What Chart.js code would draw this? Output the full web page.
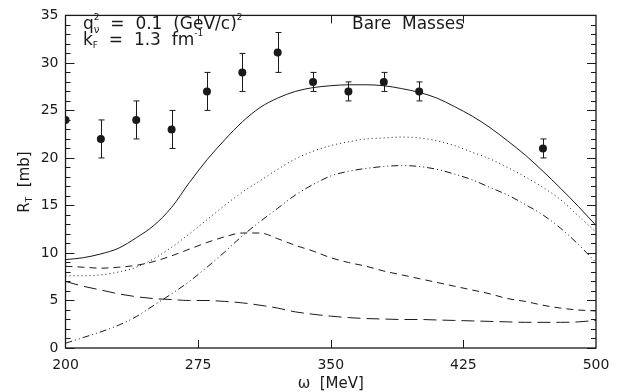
<!DOCTYPE html>
<html>
<head>
<meta charset="utf-8">
<script src="https://cdn.jsdelivr.net/npm/chart.js@4.4.1/dist/chart.umd.min.js"></script>
<style>
  html, body { margin: 0; padding: 0; background: #fff; }
  #chart { display: block; }
</style>
</head>
<body>
<canvas id="chart" width="621" height="392"></canvas>
<script>
// omega grid for the theory curves (MeV)
const omegaCurve = [200, 210, 220, 230, 240, 250, 260, 270, 280, 290, 300, 310, 320, 330, 340, 350,
    360, 370, 380, 390, 400, 410, 420, 430, 440, 450, 460, 470, 480, 490, 500];

// total (solid)
const totalRT = [9.3, 9.5, 9.9, 10.5, 11.6, 12.9, 14.8, 17.4, 19.8, 21.9, 23.8, 25.3, 26.3, 27.0, 27.4, 27.6,
    27.7, 27.7, 27.6, 27.3, 26.9, 26.3, 25.4, 24.4, 23.2, 21.8, 20.3, 18.6, 16.8, 14.9, 12.9];
// dotted
const dottedRT = [7.6, 7.6, 7.7, 8.0, 8.5, 9.4, 10.6, 12.0, 13.5, 15.0, 16.4, 17.6, 18.8, 19.9, 20.7, 21.3,
    21.7, 22.0, 22.1, 22.2, 22.1, 21.8, 21.3, 20.6, 19.9, 19.0, 18.0, 16.9, 15.6, 13.9, 12.2];
// dash-dot-dot
const dashDotRT = [0.5, 1.1, 1.7, 2.4, 3.3, 4.5, 5.7, 7.0, 8.5, 10.1, 11.8, 13.3, 14.7, 16.1, 17.2, 18.1,
    18.6, 18.9, 19.1, 19.2, 19.1, 18.8, 18.3, 17.7, 16.9, 16.1, 15.1, 14.0, 12.6, 10.9, 9.0];
// short dashes
const shortDashRT = [8.6, 8.5, 8.4, 8.5, 8.7, 9.1, 9.7, 10.4, 11.1, 11.7, 12.1, 12.1, 11.5, 10.8, 10.2, 9.5,
    9.0, 8.6, 8.1, 7.7, 7.3, 6.9, 6.5, 6.1, 5.7, 5.2, 4.9, 4.5, 4.2, 4.0, 3.9];
// long dashes
const longDashRT = [7.0, 6.5, 6.1, 5.7, 5.4, 5.2, 5.1, 5.0, 5.0, 4.9, 4.75, 4.5, 4.2, 3.8, 3.55, 3.35,
    3.2, 3.1, 3.05, 3.0, 3.0, 2.95, 2.9, 2.85, 2.8, 2.75, 2.7, 2.7, 2.7, 2.75, 2.9];

// measured points
const dataOmega = [200, 220, 240, 260, 280, 300, 320, 340, 360, 380, 400, 470];
const dataRT = [24, 22, 24, 23, 27, 29, 31.1, 28, 27, 28, 27, 21];
const dataErr = [0, 2, 2, 2, 2, 2, 2.1, 1, 1, 1, 1, 1];

const xTicks = [200, 275, 350, 425, 500];
const yTicks = [0, 5, 10, 15, 20, 25, 30, 35];

const INK = "#1a1a1a";
const FONT = "'DejaVu Sans', sans-serif";

const pairs = (xs, ys) => xs.map((v, i) => ({ x: v, y: ys[i] }));

const curve = (values, dash) => ({
    data: pairs(omegaCurve, values),
    borderColor: INK,
    borderWidth: 1,
    borderDash: dash,
    pointRadius: 0,
    cubicInterpolationMode: "monotone",
    fill: false,
});

// text with sub/superscripts: parts = [text, size, dy, advance?]
function drawRich(ctx, parts, x, y) {
    let cx = x;
    parts.forEach(([t, size, dy, adv = true]) => {
        ctx.font = `${size}px ${FONT}`;
        ctx.fillText(t, cx, y + dy);
        if (adv) cx += ctx.measureText(t).width;
    });
}

const decor = {
    id: "decor",
    afterDatasetsDraw(chart) {
        const { ctx, chartArea: a, scales: { x, y } } = chart;
        ctx.save();
        ctx.strokeStyle = INK;
        ctx.fillStyle = INK;

        // error bars
        ctx.lineWidth = 1;
        dataOmega.forEach((w, i) => {
            const e = dataErr[i];
            if (!e) return;
            const px = Math.round(x.getPixelForValue(w)) + 0.5;
            const lo = y.getPixelForValue(dataRT[i] - e);
            const hi = y.getPixelForValue(dataRT[i] + e);
            ctx.beginPath();
            ctx.moveTo(px, lo); ctx.lineTo(px, hi);
            ctx.moveTo(px - 3, lo); ctx.lineTo(px + 3, lo);
            ctx.moveTo(px - 3, hi); ctx.lineTo(px + 3, hi);
            ctx.stroke();
        });

        // frame
        ctx.lineWidth = 1.3;
        ctx.strokeRect(a.left, a.top, a.right - a.left, a.bottom - a.top);

        // inward ticks
        ctx.lineWidth = 1;
        ctx.beginPath();
        for (let v = 0; v <= 35; v++) {
            const py = Math.round(y.getPixelForValue(v)) + 0.5;
            const len = v % 5 === 0 ? 9 : 5;
            ctx.moveTo(a.left, py); ctx.lineTo(a.left + len, py);
            ctx.moveTo(a.right, py); ctx.lineTo(a.right - len, py);
        }
        xTicks.slice(1, -1).forEach((v) => {
            const px = Math.round(x.getPixelForValue(v)) + 0.5;
            ctx.moveTo(px, a.bottom); ctx.lineTo(px, a.bottom - 8);
            ctx.moveTo(px, a.top); ctx.lineTo(px, a.top + 8);
        });
        ctx.stroke();

        // annotations
        ctx.textBaseline = "alphabetic";
        ctx.textAlign = "left";
        drawRich(ctx, [["q", 17, 0], ["\u03bd", 10, 4, false], ["2", 9, -9], ["  =  0.1  (GeV/c)", 17, 0], ["2", 9, -9]], 83, 29);
        drawRich(ctx, [["k", 17, 0], ["F", 9, 3], ["  =  1.3  fm", 17, 0], ["-1", 9, -9]], 83, 45);
        ctx.font = `17px ${FONT}`;
        ctx.fillText("Bare  Masses", 352, 29);

        // axis titles
        ctx.save();
        ctx.translate(24, 182);
        ctx.rotate(-Math.PI / 2);
        ctx.font = `15px ${FONT}`;
        const w1 = ctx.measureText("R").width;
        ctx.font = `9px ${FONT}`;
        const w2 = ctx.measureText("T").width;
        ctx.font = `15px ${FONT}`;
        const w3 = ctx.measureText("  [mb]").width;
        drawRich(ctx, [["R", 15, 0], ["T", 9, 3], ["  [mb]", 15, 0]], -(w1 + w2 + w3) / 2, 5);
        ctx.restore();

        ctx.textAlign = "center";
        ctx.font = `15px ${FONT}`;
        ctx.fillText("\u03c9  [MeV]", (a.left + a.right) / 2, 388);
        ctx.restore();
    },
};

new Chart(document.getElementById("chart"), {
    type: "line",
    data: {
        datasets: [
            curve(totalRT, []),
            curve(dottedRT, [1, 3]),
            curve(dashDotRT, [7, 3, 1, 3, 1, 3]),
            curve(shortDashRT, [7, 5]),
            curve(longDashRT, [13, 6]),
            {
                data: pairs(dataOmega, dataRT),
                showLine: false,
                pointRadius: 4,
                pointBackgroundColor: INK,
                pointBorderColor: INK,
                pointBorderWidth: 0,
            },
        ],
    },
    options: {
        responsive: false,
        animation: false,
        layout: { padding: { top: 12, right: 25, left: 0, bottom: 0 } },
        scales: {
            x: {
                type: "linear",
                min: 200,
                max: 500,
                afterBuildTicks: (s) => { s.ticks = xTicks.map((v) => ({ value: v })); },
                afterFit: (s) => { s.height = 44; },
                grid: { display: false, drawTicks: false },
                border: { display: false },
                ticks: { color: INK, padding: 9, font: { family: FONT, size: 14 } },
            },
            y: {
                min: 0,
                max: 35,
                afterBuildTicks: (s) => { s.ticks = yTicks.map((v) => ({ value: v })); },
                afterFit: (s) => { s.width = 65.5; },
                grid: { display: false, drawTicks: false },
                border: { display: false },
                ticks: { color: INK, padding: 7, font: { family: FONT, size: 14 } },
            },
        },
        plugins: {
            legend: { display: false },
            tooltip: { enabled: false },
        },
    },
    plugins: [decor],
});
</script>
</body>
</html>
